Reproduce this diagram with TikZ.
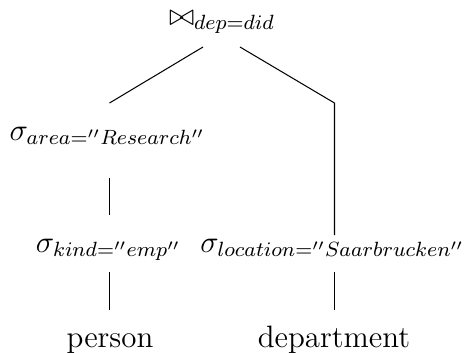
\documentclass[12pt,tikz,border=0pt]{standalone}
\usetikzlibrary{calc}
\begin{document}
\begin{tikzpicture}[x=0.388pt,y=-0.388pt,
  lbl/.style={anchor=base,inner sep=0pt},
  edge/.style={line width=0.4pt}]
\useasboundingbox (0,0) rectangle (471,352);
\node[lbl] (join) at (222,25) {$\bowtie_{dep=did}$};
\node[lbl] (area) at (107.5,140) {$\sigma_{area=''Research''}$};
\node[lbl] (kind) at (108.5,252) {$\sigma_{kind=''emp''}$};
\node[lbl] (loc) at (332.5,252) {$\sigma_{location=''Saarbrucken''}$};
\node[lbl] (person) at (110,347) {person};
\node[lbl] (dept) at (334,347) {department};
\coordinate (bend) at (334.5,103);
\draw[edge] ($(join.base)+(-19,22)$) -- ($(area.base)+(2,-37)$);
\draw[edge] ($(join.base)+(18,22)$) -- (bend) -- ($(loc.base)+(2,-17)$);
\draw[edge] ($(area.base)+(2,38)$) -- ($(kind.base)+(1,-37)$);
\draw[edge] ($(kind.base)+(1,20)$) -- ($(person.base)+(-0.5,-37)$);
\draw[edge] ($(loc.base)+(2,20)$) -- ($(dept.base)+(0.5,-37)$);
\end{tikzpicture}
\end{document}
